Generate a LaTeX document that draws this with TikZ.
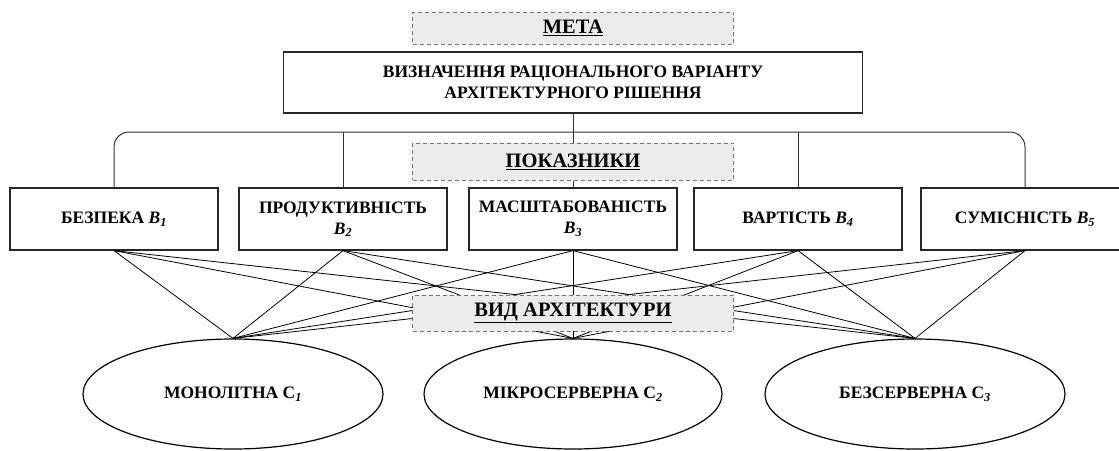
\documentclass[tikz,border=0pt]{standalone}
\usepackage{fontspec}
\setmainfont{Liberation Serif}
\usetikzlibrary{shapes.geometric}
\newcommand{\sub}[2]{\textit{#1}\textsubscript{\textit{#2}}}
\newcommand{\csub}[1]{С\textsubscript{\textit{#1}}}
\begin{document}
\begin{tikzpicture}[x=1pt,y=-1pt,
  box/.style={draw=black!85, line width=1.2pt, fill=white, inner sep=0pt, align=center,
    minimum width=208, minimum height=62, font=\bfseries\fontsize{17.5}{21}\selectfont},
  headbox/.style={draw=black!55, dash pattern=on 4pt off 3pt, line width=1pt, fill=black!8,
    inner sep=0pt, minimum width=321, font=\bfseries\fontsize{20.5}{24}\selectfont},
  arch/.style={draw=black, line width=1.2pt, ellipse, inner sep=0pt,
    minimum width=300, minimum height=110, font=\bfseries\fontsize{17.5}{21}\selectfont},
  tree/.style={draw=black!80, line width=1pt},
  link/.style={draw=black, line width=0.8pt}]
\useasboundingbox (0,0) rectangle (1119,450);

% goal level
\node[headbox, minimum height=32] (meta) at (573,28) {\underline{МЕТА}};
\node[box, minimum width=579, minimum height=61] (goal) at (573,82.5)
  {ВИЗНАЧЕННЯ РАЦІОНАЛЬНОГО ВАРІАНТУ\\АРХІТЕКТУРНОГО РІШЕННЯ};

% criteria level
\node[box] (b1) at (114,219) {БЕЗПЕКА \sub{B}{1}};
\node[box] (b2) at (343,219) {ПРОДУКТИВНІСТЬ\\\sub{B}{2}};
\node[box] (b3) at (573,219) {МАСШТАБОВАНІСТЬ\\\sub{B}{3}};
\node[box] (b4) at (798,219) {ВАРТІСТЬ \sub{B}{4}};
\node[box] (b5) at (1025,219) {СУМІСНІСТЬ \sub{B}{5}};

% alternatives level
\node[arch] (c1) at (233,394) {МОНОЛІТНА \csub{1}};
\node[arch, minimum width=298] (c2) at (573,394) {МІКРОСЕРВЕРНА \csub{2}};
\node[arch] (c3) at (915,394) {БЕЗСЕРВЕРНА \csub{3}};

% tree connectors
\coordinate (bus) at (573,132);
\draw[tree, rounded corners=15pt] (b1.north) |- (bus) -| (b5.north);
\draw[tree] (b2.north) -- (b2.north |- bus);
\draw[tree] (b4.north) -- (b4.north |- bus);
\node[headbox, minimum height=37] (pok) at (573,161.5) {\underline{ПОКАЗНИКИ}};
\draw[tree] (goal.south) -- (pok.north);
\draw[tree] (pok.south) -- (b3.north);

% mesh of connectors
\foreach \b in {b1,b2,b3,b4,b5}{
  \foreach \c in {c1,c2,c3}{
    \draw[link] (\b.south) -- (\c.north);
  }
}
\node[headbox, minimum height=36] (vid) at (573,313) {\underline{ВИД АРХІТЕКТУРИ}};
\end{tikzpicture}
\end{document}
